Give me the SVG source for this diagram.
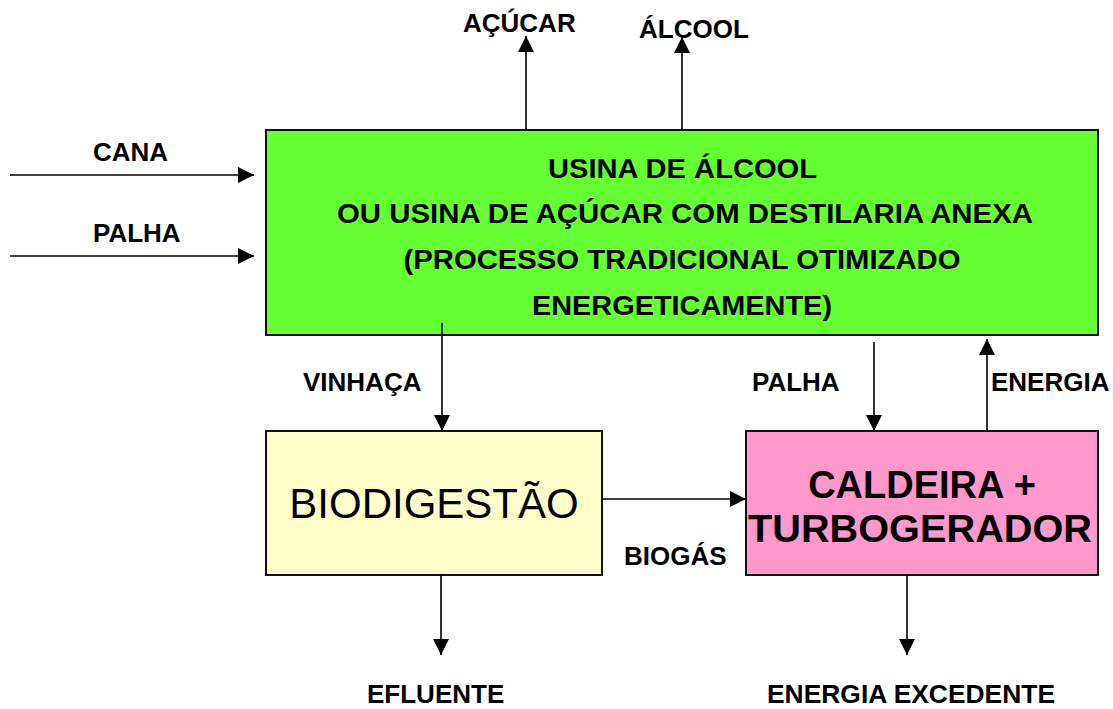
<svg xmlns="http://www.w3.org/2000/svg" width="1113" height="709" viewBox="0 0 1113 709">
<style>
  .box { stroke: #111; stroke-width: 2; }
  .lbl { font-family: "Liberation Sans", Arial, sans-serif; font-weight: bold; font-size: 26px; fill: #000; }
  .big { font-size: 27px; }
  .conn { stroke: #000; stroke-width: 1.6; fill: none; marker-end: url(#ah); }
</style>
<defs>
  <marker id="ah" markerUnits="userSpaceOnUse" markerWidth="16" markerHeight="16" refX="16" refY="8" orient="auto">
    <path d="M0,0 L16,8 L0,16 z" fill="#000"/>
  </marker>
</defs>
<rect width="1113" height="709" fill="#fff"/>
<g id="usina">
  <rect class="box" x="266" y="130" width="832" height="205" fill="#66FF33"/>
  <text class="lbl big" x="682.5" y="178" text-anchor="middle" textLength="269" lengthAdjust="spacingAndGlyphs">USINA DE ÁLCOOL</text>
  <text class="lbl big" x="685" y="223" text-anchor="middle" textLength="696" lengthAdjust="spacingAndGlyphs">OU USINA DE AÇÚCAR COM DESTILARIA ANEXA</text>
  <text class="lbl big" x="682" y="269" text-anchor="middle" textLength="557" lengthAdjust="spacingAndGlyphs">(PROCESSO TRADICIONAL OTIMIZADO</text>
  <text class="lbl big" x="682" y="315" text-anchor="middle" textLength="300" lengthAdjust="spacingAndGlyphs">ENERGETICAMENTE)</text>
</g>
<g id="biodigestao">
  <rect class="box" x="266" y="431" width="336" height="144" fill="#FFFFCC"/>
  <text x="434" y="518" text-anchor="middle" style="font-family: 'Liberation Sans', Arial, sans-serif; font-size: 42px; fill: #000">BIODIGESTÃO</text>
</g>
<g id="caldeira">
  <rect class="box" x="746" y="431" width="352" height="144" fill="#FF99CC"/>
  <text class="lbl" x="922" y="498" text-anchor="middle" style="font-size: 38px">CALDEIRA +</text>
  <text class="lbl" x="920" y="542" text-anchor="middle" style="font-size: 39px" textLength="344" lengthAdjust="spacingAndGlyphs">TURBOGERADOR</text>
</g>
<g id="connectors">
  <line class="conn" x1="10" y1="175" x2="254" y2="175"/>
  <line class="conn" x1="10" y1="256" x2="254" y2="256"/>
  <line class="conn" x1="526" y1="130" x2="526" y2="36"/>
  <line class="conn" x1="682" y1="130" x2="682" y2="37"/>
  <line class="conn" x1="442" y1="323" x2="442" y2="431"/>
  <line class="conn" x1="874" y1="342" x2="874" y2="431"/>
  <line class="conn" x1="987" y1="431" x2="987" y2="339"/>
  <line class="conn" x1="602" y1="499" x2="746" y2="499"/>
  <line class="conn" x1="441" y1="575" x2="441" y2="655"/>
  <line class="conn" x1="907" y1="575" x2="907" y2="655"/>
</g>
<g id="labels">
  <text class="lbl" x="93" y="161">CANA</text>
  <text class="lbl" x="93" y="242">PALHA</text>
  <text class="lbl" x="463" y="32">AÇÚCAR</text>
  <text class="lbl" x="639" y="38">ÁLCOOL</text>
  <text class="lbl" x="303" y="391">VINHAÇA</text>
  <text class="lbl" x="752" y="391">PALHA</text>
  <text class="lbl" x="991" y="391">ENERGIA</text>
  <text class="lbl" x="624" y="565">BIOGÁS</text>
  <text class="lbl" x="367" y="703">EFLUENTE</text>
  <text class="lbl" x="767" y="703" textLength="288" lengthAdjust="spacingAndGlyphs">ENERGIA EXCEDENTE</text>
</g>
</svg>
